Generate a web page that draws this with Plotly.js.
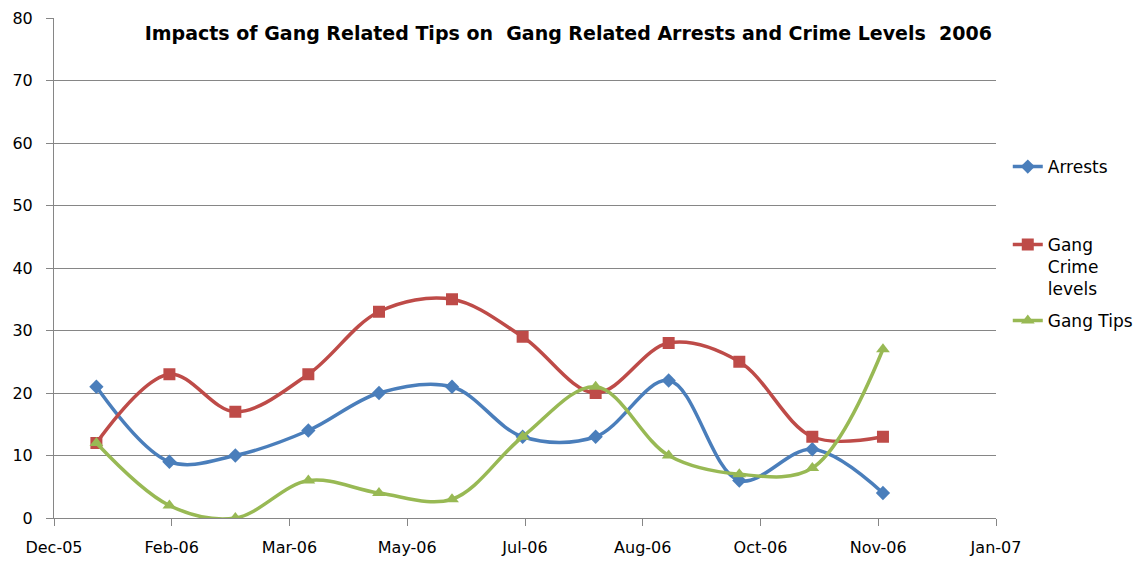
<!DOCTYPE html>
<html>
<head>
<meta charset="utf-8">
<script src="https://cdn.plot.ly/plotly-3.0.1.min.js"></script>
<style>html,body{margin:0;padding:0;background:#fff;}#chart{width:1138px;height:561px;}</style>
</head>
<body>
<div id="chart"></div>
<script>
// Data (monthly, 2006)
const months = ['2006-01-01','2006-02-01','2006-03-01','2006-04-01','2006-05-01','2006-06-01',
                '2006-07-01','2006-08-01','2006-09-01','2006-10-01','2006-11-01','2006-12-01'];
const arrests = [21, 9, 10, 14, 20, 21, 13, 13, 22, 6, 11, 4];
const gangCrime = [12, 23, 17, 23, 33, 35, 29, 20, 28, 25, 13, 13];
const gangTips = [12, 2, 0, 6, 4, 3, 13, 21, 10, 7, 8, 27];
// X-axis ticks (Excel date axis, 50-day major unit)
const tickDates = ['2005-12-14','2006-02-02','2006-03-24','2006-05-13','2006-07-02',
                   '2006-08-21','2006-10-10','2006-11-29','2007-01-18'];
const tickLabels = ['Dec-05','Feb-06','Mar-06','May-06','Jul-06','Aug-06','Oct-06','Nov-06','Jan-07'];

const FONT = '"DejaVu Sans", sans-serif';

const traces = [
  {x: months, y: arrests, name: 'Arrests', type: 'scatter', mode: 'lines+markers',
   line: {color: '#4A7EBB', width: 3.5, shape: 'spline', smoothing: 1},
   marker: {symbol: 'diamond', size: 11, color: '#4A7EBB'}, legend: 'legend'},
  {x: months, y: gangCrime, name: 'Gang<br>Crime<br>levels', type: 'scatter', mode: 'lines+markers',
   line: {color: '#BE4B48', width: 3.5, shape: 'spline', smoothing: 1},
   marker: {symbol: 'square', size: 12, color: '#BE4B48'}, legend: 'legend2'},
  {x: months, y: gangTips, name: 'Gang Tips', type: 'scatter', mode: 'lines+markers',
   line: {color: '#98B954', width: 3.5, shape: 'spline', smoothing: 1},
   marker: {symbol: 'triangle-up', size: 12, color: '#98B954'}, legend: 'legend3'}
];

const legendCommon = {
  xref: 'paper', yref: 'paper', xanchor: 'left', yanchor: 'top',
  font: {family: FONT, size: 17, color: '#000'}, bgcolor: 'rgba(0,0,0,0)',
  valign: 'top', itemwidth: 30, tracegroupgap: 0
};

const layout = {
  width: 1138, height: 561,
  margin: {l: 54, r: 142, t: 18, b: 43, autoexpand: false},
  paper_bgcolor: '#fff', plot_bgcolor: '#fff',
  font: {family: FONT, size: 16, color: '#000'},
  title: {text: '<b>Impacts of Gang Related Tips on  Gang Related Arrests and Crime Levels  2006</b>',
          font: {family: FONT, size: 19, color: '#000'},
          xref: 'paper', x: 0.546, xanchor: 'center', yref: 'container', y: 0.941, yanchor: 'middle'},
  xaxis: {type: 'date', range: [tickDates[0], tickDates[tickDates.length-1]],
          tickmode: 'array', tickvals: tickDates, ticktext: tickLabels,
          showgrid: false, showline: true, linecolor: '#868686', linewidth: 1,
          ticks: 'outside', ticklen: 7, tickcolor: '#868686', zeroline: false,
          ticklabelstandoff: 8,
          tickfont: {family: FONT, size: 16, color: '#000'}},
  yaxis: {range: [0, 80], dtick: 10, tick0: 0,
          showgrid: true, gridcolor: '#868686', gridwidth: 1,
          showline: true, linecolor: '#868686', linewidth: 1,
          ticks: 'outside', ticklen: 7, tickcolor: '#868686', zeroline: false,
          ticklabelstandoff: 10,
          tickfont: {family: FONT, size: 16, color: '#000'}},
  showlegend: true,
  legend: Object.assign({}, legendCommon, {x: 1.0125, y: 0.738}),
  legend2: Object.assign({}, legendCommon, {x: 1.0125, y: 0.582}),
  legend3: Object.assign({}, legendCommon, {x: 1.0125, y: 0.43})
};

Plotly.newPlot('chart', traces, layout, {displayModeBar: false, staticPlot: true});
</script>
</body>
</html>
